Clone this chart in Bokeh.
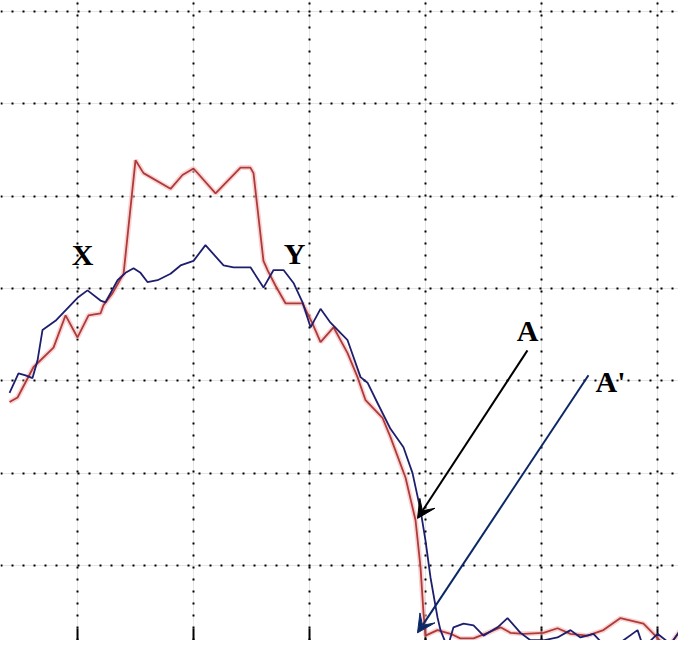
from bokeh.plotting import figure
from bokeh.models import (Range1d, FixedTicker, Grid, Arrow, VeeHead,
                          ColumnDataSource)
from bokeh.core.properties import value
from bokeh.embed import file_html
from bokeh.resources import INLINE

# ---- data (screen divisions) ----
x_grid = [0, 1, 2, 3, 4, 5]
y_grid = [0, 1, 2, 3, 4, 5, 6]

red_x = [-0.586, -0.517, -0.379, -0.207, -0.103, 0.0, 0.095, 0.198, 0.224, 0.302, 0.397,
         0.5, 0.569, 0.802, 0.905, 1.0, 1.19, 1.405, 1.49, 1.517, 1.603, 1.638, 1.707,
         1.793, 1.94, 2.026, 2.095, 2.207, 2.328, 2.414, 2.483, 2.629, 2.698, 2.828,
         2.914, 2.957, 2.983, 3.0, 3.103, 3.216, 3.30, 3.414, 3.534, 3.647, 3.733,
         3.845, 4.017, 4.138, 4.25, 4.397, 4.534, 4.681, 4.879, 4.966, 5.086, 5.198, 5.31]
red_y = [1.77, 1.82, 2.15, 2.36, 2.71, 2.47, 2.71, 2.73, 2.82, 2.95, 3.16,
         4.39, 4.25, 4.08, 4.23, 4.30, 4.03, 4.31, 4.31, 4.25, 3.30, 3.20, 3.03,
         2.84, 2.84, 2.62, 2.42, 2.58, 2.30, 2.04, 1.79, 1.60, 1.39, 0.95,
         0.49, -0.02, -0.52, -0.76, -0.70, -0.74, -0.79, -0.79, -0.73, -0.67, -0.73,
         -0.74, -0.73, -0.68, -0.74, -0.76, -0.70, -0.57, -0.63, -0.74, -0.90, -0.70, -0.78]

blue_x = [-0.586, -0.509, -0.448, -0.388, -0.345, -0.302, -0.19, 0.0, 0.086, 0.198, 0.241,
          0.345, 0.414, 0.483, 0.543, 0.603, 0.69, 0.802, 0.888, 1.0, 1.103, 1.259, 1.345,
          1.491, 1.603, 1.69, 1.776, 1.862, 1.94, 2.009, 2.095, 2.181, 2.328, 2.44, 2.50,
          2.586, 2.698, 2.81, 2.888, 2.957, 3.0, 3.043, 3.103, 3.129, 3.19, 3.241, 3.328,
          3.414, 3.50, 3.621, 3.707, 3.819, 3.905, 4.017, 4.138, 4.25, 4.336, 4.448, 4.595,
          4.707, 4.828, 4.879, 5.0, 5.112, 5.198, 5.31]
blue_y = [1.87, 2.08, 2.06, 2.03, 2.22, 2.55, 2.65, 2.90, 2.98, 2.87, 2.85,
          3.09, 3.17, 3.22, 3.17, 3.07, 3.09, 3.16, 3.25, 3.30, 3.47, 3.25, 3.23,
          3.23, 3.01, 3.20, 3.20, 3.06, 2.85, 2.58, 2.78, 2.63, 2.44, 2.04, 1.98,
          1.76, 1.48, 1.28, 1.00, 0.60, 0.27, -0.13, -0.56, -0.70, -0.89, -0.67, -0.63,
          -0.65, -0.76, -0.67, -0.57, -0.73, -0.81, -0.81, -0.78, -0.70, -0.78, -0.74, -0.94,
          -0.81, -0.70, -0.89, -0.74, -0.85, -0.70, -0.78]

label_text = ["X", "Y", "A"]
label_x = [0.043, 1.871, 3.879]
label_y = [3.37, 3.38, 2.55]
label2_text = ["A'"]
label2_x = [4.466]
label2_y = [1.99]

arrow_x0 = [3.879, 4.405]
arrow_y0 = [2.33, 2.06]
arrow_x1 = [2.931, 2.931]
arrow_y1 = [0.51, -0.73]
arrow_colors = ["black", "#0b2766"]

# ---- figure ----
X_MIN, X_MAX = -0.664, 5.181
Y_MIN, Y_MAX = -0.8126, 6.12
TICK_LEN = 0.13

p = figure(width=678, height=640, x_range=Range1d(X_MIN, X_MAX),
           y_range=Range1d(Y_MIN, Y_MAX), output_backend="svg",
           toolbar_location=None, x_axis_location=None, y_axis_location=None,
           min_border=0)
p.outline_line_color = None
p.background_fill_color = "white"
p.border_fill_color = "white"

gx = Grid(dimension=0, ticker=FixedTicker(ticks=x_grid), grid_line_color="black",
          grid_line_dash="2 10", grid_line_width=2)
gy = Grid(dimension=1, ticker=FixedTicker(ticks=y_grid), grid_line_color="black",
          grid_line_dash="2 9", grid_line_width=2)
p.add_layout(gx)
p.add_layout(gy)

# bottom tick marks at the grid divisions
p.segment(x0=x_grid, y0=[Y_MIN] * len(x_grid), x1=x_grid,
          y1=[Y_MIN + TICK_LEN] * len(x_grid), line_color="black", line_width=2)

p.line(red_x, red_y, line_color="#f3b9b9", line_width=5, line_alpha=0.6)
p.line(red_x, red_y, line_color="#b03a3a", line_width=1.8)
p.line(blue_x, blue_y, line_color="#1e1e6e", line_width=1.8)

for i in range(2):
    p.add_layout(Arrow(end=VeeHead(size=18, fill_color=arrow_colors[i],
                                   line_color=arrow_colors[i]),
                       x_start=arrow_x0[i], y_start=arrow_y0[i],
                       x_end=arrow_x1[i], y_end=arrow_y1[i],
                       line_color=arrow_colors[i], line_width=2))

src = ColumnDataSource(dict(x=label_x, y=label_y, t=label_text))
p.text(x="x", y="y", text="t", source=src, text_font=value("Liberation Serif"),
       text_font_style="bold", text_font_size="30px", text_align="center",
       text_baseline="middle", text_color="black")
src2 = ColumnDataSource(dict(x=label2_x, y=label2_y, t=label2_text))
p.text(x="x", y="y", text="t", source=src2, text_font=value("Liberation Serif"),
       text_font_style="bold", text_font_size="30px", text_align="left",
       text_baseline="middle", text_color="black")

open("out.html", "w").write(file_html(p, INLINE))
